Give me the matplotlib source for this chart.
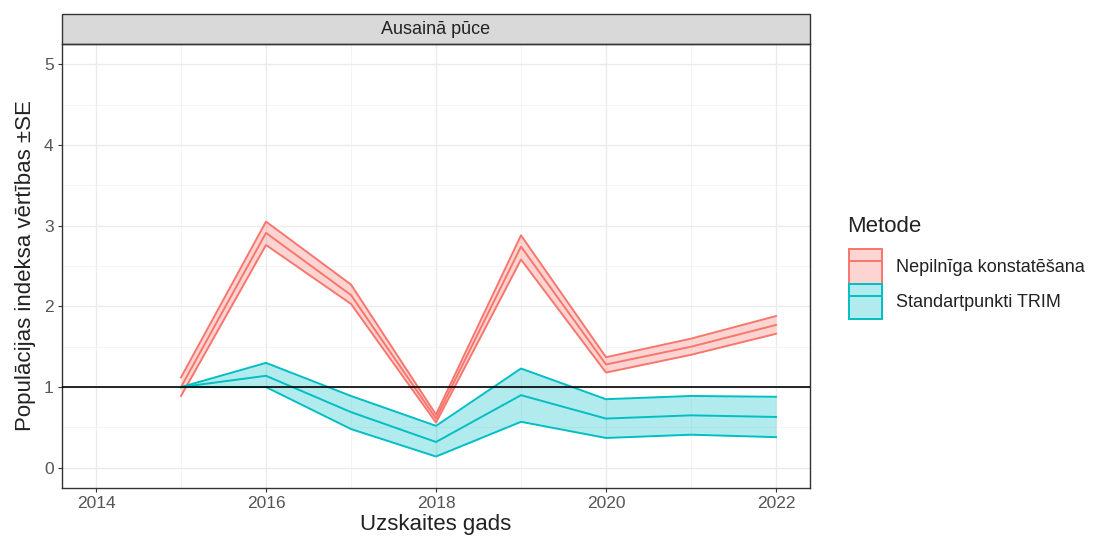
import matplotlib.pyplot as plt
from matplotlib.patches import Patch, Rectangle
from matplotlib.lines import Line2D
from matplotlib.colors import to_rgba

plt.rcParams['font.family'] = ['Liberation Sans', 'DejaVu Sans']

YEARS = [2015, 2016, 2017, 2018, 2019, 2020, 2021, 2022]
METHODS = ["Nepilnīga konstatēšana", "Standartpunkti TRIM"]
COLORS = ["#F8766D", "#00BFC4"]

NEP_MID = [1.00, 2.91, 2.14, 0.61, 2.74, 1.28, 1.50, 1.77]
NEP_LOW = [0.89, 2.76, 2.03, 0.56, 2.58, 1.18, 1.40, 1.66]
NEP_HIGH = [1.12, 3.05, 2.27, 0.66, 2.88, 1.37, 1.60, 1.88]

TRIM_MID = [1.00, 1.14, 0.69, 0.32, 0.90, 0.61, 0.65, 0.63]
TRIM_LOW = [1.00, 1.00, 0.48, 0.14, 0.57, 0.37, 0.41, 0.38]
TRIM_HIGH = [1.00, 1.30, 0.89, 0.52, 1.23, 0.85, 0.89, 0.88]

X_TICKS = [2014, 2016, 2018, 2020, 2022]
Y_TICKS = [0, 1, 2, 3, 4, 5]


def main():
    fig = plt.figure(figsize=(10.94, 5.48), dpi=100)
    ax = fig.add_axes([62 / 1094, 60 / 548, 748 / 1094, 444 / 548])

    series = [(NEP_LOW, NEP_MID, NEP_HIGH), (TRIM_LOW, TRIM_MID, TRIM_HIGH)]
    handles = []
    for (lo, mid, hi), col, name in zip(series, COLORS, METHODS):
        ax.fill_between(YEARS, lo, hi, color=col, alpha=0.3, lw=0, zorder=3)
        for s in (lo, mid, hi):
            ax.plot(YEARS, s, color=col, lw=1.4, zorder=4)
        handles.append((Patch(facecolor=to_rgba(col, 0.3), edgecolor=col, lw=1.4),
                        Line2D([], [], color=col, lw=1.4)))

    ax.axhline(1, color="black", lw=1.2, zorder=5)

    ax.set_xlim(2013.6, 2022.4)
    ax.set_ylim(-0.25, 5.25)
    ax.set_xticks(X_TICKS)
    ax.set_yticks(Y_TICKS)
    ax.set_xticks([2015, 2017, 2019, 2021], minor=True)
    ax.set_yticks([0.5, 1.5, 2.5, 3.5, 4.5], minor=True)
    ax.grid(which="major", color="#EBEBEB", lw=1.0, zorder=0)
    ax.grid(which="minor", color="#F2F2F2", lw=0.6, zorder=0)
    ax.set_axisbelow(True)
    ax.tick_params(which="major", length=3, pad=3, color="#333333", labelcolor="#555555", labelsize=12.5)
    ax.tick_params(which="minor", length=0)
    for sp in ax.spines.values():
        sp.set_color("#333333")
        sp.set_linewidth(1.0)

    ax.set_xlabel("Uzskaites gads", fontsize=16, labelpad=2, color="#222222")
    ax.set_ylabel("Populācijas indeksa vērtības ±SE", fontsize=16, labelpad=6, color="#222222")

    # facet strip
    strip = Rectangle((0, 1), 1, 30 / 444, transform=ax.transAxes, clip_on=False,
                      facecolor="#D9D9D9", edgecolor="#333333", lw=1.0)
    ax.add_patch(strip)
    ax.text(0.5, 1 + 15 / 444, "Ausainā pūce", transform=ax.transAxes,
            ha="center", va="center", fontsize=13, color="#222222")

    fig.text(847 / 1094, 1 - 227 / 548, "Metode", fontsize=16, color="#222222",
             ha="left", va="center")
    fig.legend(handles, METHODS, loc="upper left",
               bbox_to_anchor=(833 / 1094, 1 - 233 / 548), frameon=False,
               fontsize=13, handlelength=1.8, handleheight=2.6,
               labelspacing=0.0, handletextpad=0.8, labelcolor="#222222")

    plt.savefig("out.png", dpi=100)


if __name__ == "__main__":
    main()
